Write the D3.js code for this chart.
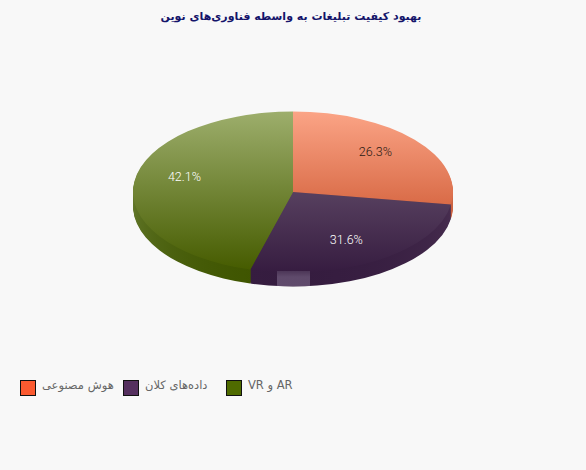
<!DOCTYPE html>
<html>
<head>
<meta charset="utf-8">
<script src="https://cdnjs.cloudflare.com/ajax/libs/d3/7.8.5/d3.min.js"></script>
<style>
  html, body { margin: 0; padding: 0; background: #f8f8f8; }
  svg { display: block; }
</style>
</head>
<body>
<div id="chart"></div>
<script>
var titleText = "بهبود کیفیت تبلیغات به واسطه فناوری‌های نوین";
var categories = ["هوش مصنوعی", "داده‌های کلان", "AR و VR"];
var values = [26.3, 31.6, 42.1];
// the picture draws the slices tilted, so the swept shares differ from the labels
var drawnShares = [27.5, 26.8, 45.7];
var legendColors = ["#fb5a30", "#55305f", "#4f6b00"];
var topColors = ["#fba486", "#57405f", "#9dae6c"];
var bottomColors = ["#d96b47", "#361c40", "#465c00"];
var sideTopColors = ["#e98f6f", "#4a3052", "#8a9e5a"];
var sideBottomColors = ["#c9603f", "#351c3f", "#3f5500"];
var labelColors = ["#2a1a14", "#ffffff", "#ffffff"];

var width = 586, height = 470;
var cx = 293, cy = 192, rx = 160, ry = 80.5, depth = 14;

var svg = d3.select("#chart").append("svg")
  .attr("width", width)
  .attr("height", height);

var defs = svg.append("defs");

function addGradient(id, fromColor, toColor) {
  var g = defs.append("linearGradient")
    .attr("id", id)
    .attr("x1", 0).attr("y1", 0).attr("x2", 0).attr("y2", 1);
  g.append("stop").attr("offset", 0).attr("stop-color", fromColor);
  g.append("stop").attr("offset", 1).attr("stop-color", toColor);
}
topColors.forEach(function(c, i) {
  addGradient("slice" + i, c, bottomColors[i]);
  addGradient("side" + i, sideTopColors[i], sideBottomColors[i]);
});
var blockFade = defs.append("linearGradient")
  .attr("id", "blockFade")
  .attr("x1", 0).attr("y1", 0).attr("x2", 0).attr("y2", 1);
blockFade.append("stop").attr("offset", 0).attr("stop-color", "#4c3657");
blockFade.append("stop").attr("offset", 0.4).attr("stop-color", "#5f4a6b");
blockFade.append("stop").attr("offset", 1).attr("stop-color", "#604b6c");

svg.append("text")
  .attr("x", 291)
  .attr("y", 20)
  .attr("text-anchor", "middle")
  .attr("direction", "rtl")
  .attr("font-family", "DejaVu Sans")
  .attr("font-size", 11)
  .attr("font-weight", "bold")
  .attr("fill", "#14146a")
  .text(titleText);

var pie = d3.pie().sort(null).value(function(d) { return d; });
var drawnArcs = pie(drawnShares);
var labelArcs = pie(values);
var arc = d3.arc().innerRadius(0).outerRadius(rx);
var labelArc = d3.arc().innerRadius(rx * 0.7).outerRadius(rx * 0.7);

var disc = svg.append("g");

// side wall: the slice repeated downward, one pixel at a time
d3.range(depth, 0, -1).forEach(function(dy) {
  disc.append("g")
    .attr("transform", "translate(" + cx + "," + (cy + dy) + ") scale(1," + (ry / rx) + ")")
    .selectAll("path")
    .data(drawnArcs)
    .enter().append("path")
    .attr("d", arc)
    .attr("fill", function(d, i) { return "url(#side" + i + ")"; });
});

// the pale block on the front edge of the middle slice
var frontX = d3.scaleLinear().domain([0, 1]).range([cx - 16, cx + 17]);
var frontY = d3.scaleLinear().domain([0, 1]).range([cy + 79, cy + 94]);

disc.append("g")
  .attr("transform", "translate(" + cx + "," + cy + ") scale(1," + (ry / rx) + ")")
  .selectAll("path")
  .data(drawnArcs)
  .enter().append("path")
  .attr("d", arc)
  .attr("fill", function(d, i) { return "url(#slice" + i + ")"; });

disc.append("rect")
  .attr("x", frontX(0))
  .attr("y", frontY(0))
  .attr("width", frontX(1) - frontX(0))
  .attr("height", frontY(1) - frontY(0))
  .attr("fill", "url(#blockFade)");

svg.selectAll(".label")
  .data(labelArcs)
  .enter().append("text")
  .attr("class", "label")
  .attr("transform", function(d) {
    var c = labelArc.centroid(d);
    return "translate(" + (cx + c[0]) + "," + (cy - 2 + c[1] * ry / rx) + ")";
  })
  .attr("dy", "0.35em")
  .attr("text-anchor", "middle")
  .attr("font-family", "Roboto")
  .attr("font-weight", 300)
  .attr("font-size", 12.5)
  .attr("fill", function(d, i) { return labelColors[i]; })
  .text(function(d) { return d.value.toFixed(1) + "%"; });

var legendX = [20, 123, 226];
var legend = svg.selectAll(".legend")
  .data(categories)
  .enter().append("g")
  .attr("class", "legend")
  .attr("transform", function(d, i) { return "translate(" + legendX[i] + ",380)"; });

legend.append("rect")
  .attr("x", 0.5).attr("y", 0.5)
  .attr("width", 15).attr("height", 15)
  .attr("stroke", "#111")
  .attr("fill", function(d, i) { return legendColors[i]; });

legend.append("text")
  .attr("x", 22)
  .attr("y", 9)
  .attr("direction", "rtl")
  .attr("text-anchor", "end")
  .attr("font-family", "DejaVu Sans")
  .attr("font-size", 11.5)
  .attr("fill", "#666")
  .text(function(d) { return d; });
</script>
</body>
</html>
